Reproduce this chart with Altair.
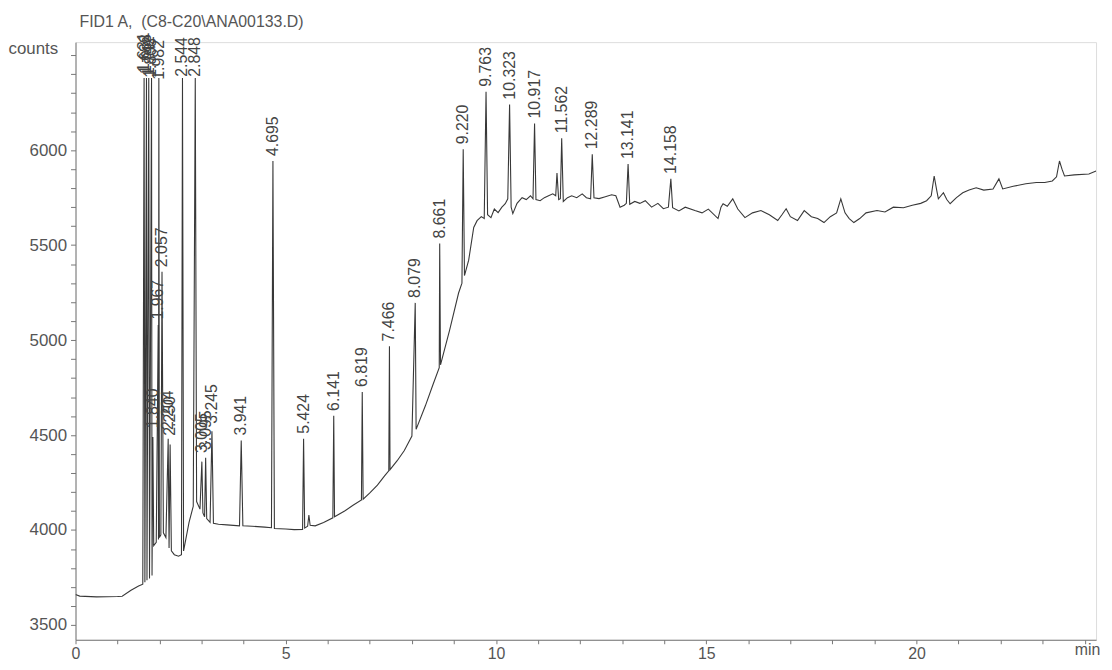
import altair as alt
import pandas as pd

# ---- chromatogram trace (retention time in min, detector counts) ----
trace_t = [
    0.00, 0.10, 0.50, 1.00, 1.11, 1.32, 1.50, 1.60,
    1.631, 1.65, 1.688, 1.70, 1.742, 1.76, 1.808, 1.82, 1.840, 1.86, 1.92,
    1.967, 1.974, 1.982, 1.995, 2.03, 2.057, 2.09, 2.15, 2.204, 2.225, 2.250,
    2.28, 2.35, 2.45, 2.52, 2.544, 2.57, 2.70, 2.80, 2.848, 2.88, 2.96,
    3.005, 3.03, 3.07, 3.095, 3.12, 3.20, 3.245, 3.28, 3.40, 3.60, 3.90,
    3.941, 3.98, 4.20, 4.50, 4.66, 4.695, 4.73, 5.00, 5.20, 5.40, 5.424,
    5.45, 5.52, 5.55, 5.58, 5.70, 5.90, 6.12, 6.141, 6.16, 6.40, 6.60, 6.80,
    6.819, 6.84, 7.00, 7.18, 7.35, 7.45, 7.466, 7.48, 7.65, 7.82, 8.00,
    8.079, 8.10, 8.32, 8.50, 8.65, 8.661, 8.68, 8.90, 9.11, 9.19, 9.220,
    9.25, 9.35, 9.47, 9.55, 9.65, 9.72, 9.763, 9.80, 9.88, 9.96, 10.05,
    10.14, 10.22, 10.28, 10.323, 10.36, 10.40, 10.50, 10.62, 10.72, 10.82,
    10.88, 10.917, 10.95, 11.05, 11.15, 11.25, 11.35, 11.42, 11.45, 11.49,
    11.53, 11.562, 11.60, 11.70, 11.80, 11.92, 12.05, 12.15, 12.25, 12.289,
    12.33, 12.45, 12.60, 12.75, 12.85, 12.95, 13.05, 13.10, 13.141, 13.18,
    13.30, 13.42, 13.55, 13.70, 13.85, 13.98, 14.10, 14.158, 14.20, 14.35,
    14.50, 14.73, 14.90, 15.05, 15.28, 15.35, 15.40, 15.50, 15.63, 15.75,
    15.92, 16.10, 16.30, 16.50, 16.70, 16.80, 16.90, 17.00, 17.17, 17.33,
    17.50, 17.65, 17.80, 17.95, 18.10, 18.20, 18.30, 18.40, 18.51, 18.65,
    18.80, 19.06, 19.25, 19.45, 19.69, 19.90, 20.10, 20.24, 20.35, 20.42,
    20.48, 20.52, 20.64, 20.72, 20.80, 20.95, 21.10, 21.25, 21.42, 21.60,
    21.82, 21.96, 22.05, 22.30, 22.60, 22.85, 23.05, 23.23, 23.33, 23.40,
    23.46, 23.52, 23.75, 24.10, 24.27,
]
trace_c = [
    3660, 3652, 3648, 3650, 3651, 3683, 3705, 3715,
    6380, 3725, 6380, 3735, 6380, 3745, 6380, 3760, 4490, 3918, 3935,
    5080, 3950, 6380, 3960, 3975, 5360, 3985, 3960, 4480, 3905, 4450,
    3890, 3870, 3862, 3870, 6380, 3890, 4040, 4125, 6380, 4150, 4110,
    4360, 4090, 4070, 4380, 4060, 4040, 4520, 4035, 4030, 4027, 4022,
    4471, 4022, 4020, 4015, 4012, 5943, 4008, 4005, 4002, 4003, 4481,
    4010, 4020, 4079, 4025, 4022, 4040, 4064, 4601, 4070, 4100, 4130, 4158,
    4727, 4162, 4195, 4236, 4285, 4312, 4967, 4318, 4365, 4419, 4495,
    5196, 4530, 4654, 4765, 4855, 5509, 4870, 5055, 5248, 5300, 6005,
    5340, 5421, 5593, 5629, 5650, 5640, 6308, 5660, 5645, 5690, 5671,
    5700, 5718, 5744, 6240, 5700, 5666, 5720, 5750, 5740, 5760,
    5744, 6141, 5740, 5734, 5750, 5760, 5770, 5760, 5880, 5740,
    5745, 6063, 5730, 5750, 5760, 5750, 5770, 5750, 5744, 5979,
    5750, 5745, 5755, 5765, 5760, 5700, 5710, 5720, 5927, 5715,
    5730, 5720, 5734, 5700, 5720, 5692, 5700, 5849, 5697, 5680,
    5700, 5682, 5670, 5690, 5640, 5700, 5718, 5705, 5744, 5690,
    5645, 5670, 5682, 5660, 5630, 5660, 5692, 5650, 5630, 5682,
    5650, 5640, 5619, 5650, 5670, 5744, 5670, 5640, 5619, 5640,
    5670, 5682, 5675, 5700, 5697, 5710, 5720, 5734, 5760, 5864,
    5790, 5744, 5776, 5740, 5718, 5750, 5776, 5790, 5802, 5790,
    5796, 5849, 5796, 5810, 5823, 5830, 5830, 5838, 5860, 5943,
    5900, 5864, 5870, 5875, 5890,
]

# ---- peak labels (retention time, label anchor counts) ----
peak_rt = [
    1.631, 1.688, 1.742, 1.808, 1.982, 2.544, 2.848,
    1.840, 1.967, 2.057, 2.204, 2.250, 3.005, 3.095, 3.245, 3.941,
    4.695, 5.424, 6.141, 6.819, 7.466, 8.079, 8.661, 9.220, 9.763,
    10.323, 10.917, 11.562, 12.289, 13.141, 14.158,
]
peak_label_c = [
    6385, 6375, 6365, 6355, 6345, 6360, 6360,
    4510, 5082, 5358, 4500, 4470, 4380, 4395, 4533, 4471,
    5943, 4481, 4601, 4727, 4967, 5196, 5509, 6005, 6308,
    6240, 6141, 6063, 5979, 5927, 5849,
]

# ---- axis tick values (every tick drawn, labels only on the round ones) ----
y_ticks = list(range(3500, 6501, 100))
x_ticks = list(range(0, 25))

trace = pd.DataFrame({"t": trace_t, "c": trace_c})
labels = pd.DataFrame({
    "t": peak_rt,
    "c": peak_label_c,
    "txt": [f"{v:.3f}" for v in peak_rt],
})

FONT = "Liberation Sans"
TXT = "#555555"
AX = "#777777"

x_scale = alt.Scale(domain=[0, 24.27], nice=False, zero=False)
y_scale = alt.Scale(domain=[3422, 6569], nice=False, zero=False)

x_axis = alt.Axis(
    values=x_ticks,
    labelExpr="datum.value % 5 == 0 ? datum.value : ''",
    grid=False, tickSize=4, labelPadding=2, labelFontSize=16, labelFont=FONT,
    labelColor=TXT, domainColor=AX, tickColor=AX, labelFlush=False,
    labelOverlap=False, labelBound=False,
    title="min", titleFont=FONT, titleFontSize=16, titleFontWeight="normal",
    titleColor=TXT, titleAlign="left", titleBaseline="middle",
    titleX=1006, titleY=10, titleAngle=0,
)
y_axis = alt.Axis(
    values=y_ticks,
    labelExpr="(datum.value % 500 == 0 && datum.value <= 6000) ? datum.value : ''",
    grid=False, tickSize=5, labelPadding=4, labelFontSize=17, labelFont=FONT,
    labelColor=TXT, domainColor=AX, tickColor=AX,
    labelOverlap=False, labelBound=False, labelFlush=False,
    title="counts", titleFont=FONT, titleFontSize=17, titleFontWeight="normal",
    titleColor=TXT, titleAngle=0, titleAlign="left", titleBaseline="middle",
    titleX=-68, titleY=6,
)

line = alt.Chart(trace).mark_line(color="#383838", strokeWidth=1.1, clip=True).encode(
    x=alt.X("t:Q", scale=x_scale, axis=x_axis),
    y=alt.Y("c:Q", scale=y_scale, axis=y_axis),
    order="t:Q",
)

text = alt.Chart(labels).mark_text(
    angle=270, align="left", baseline="middle", dx=5,
    fontSize=16, font=FONT, color="#444444",
).encode(
    x=alt.X("t:Q", scale=x_scale, axis=None),
    y=alt.Y("c:Q", scale=y_scale, axis=None),
    text="txt:N",
)

chart = alt.layer(line, text).resolve_axis(
    x="independent", y="independent"
).properties(
    width=1028,
    height=602,
    autosize=alt.AutoSizeParams(type="none"),
    padding={"left": 68, "top": 32, "right": 8, "bottom": 20},
    title=alt.TitleParams(
        "FID1 A,\u00a0 (C8-C20\\ANA00133.D)",
        anchor="start", frame="group", fontSize=16, fontWeight="normal",
        font=FONT, color=TXT, offset=2, dx=4,
    ),
).configure_view(stroke=None, strokeWidth=0).configure(background="white")

chart.save("out.html", embed_options={"renderer": "svg", "actions": False})
